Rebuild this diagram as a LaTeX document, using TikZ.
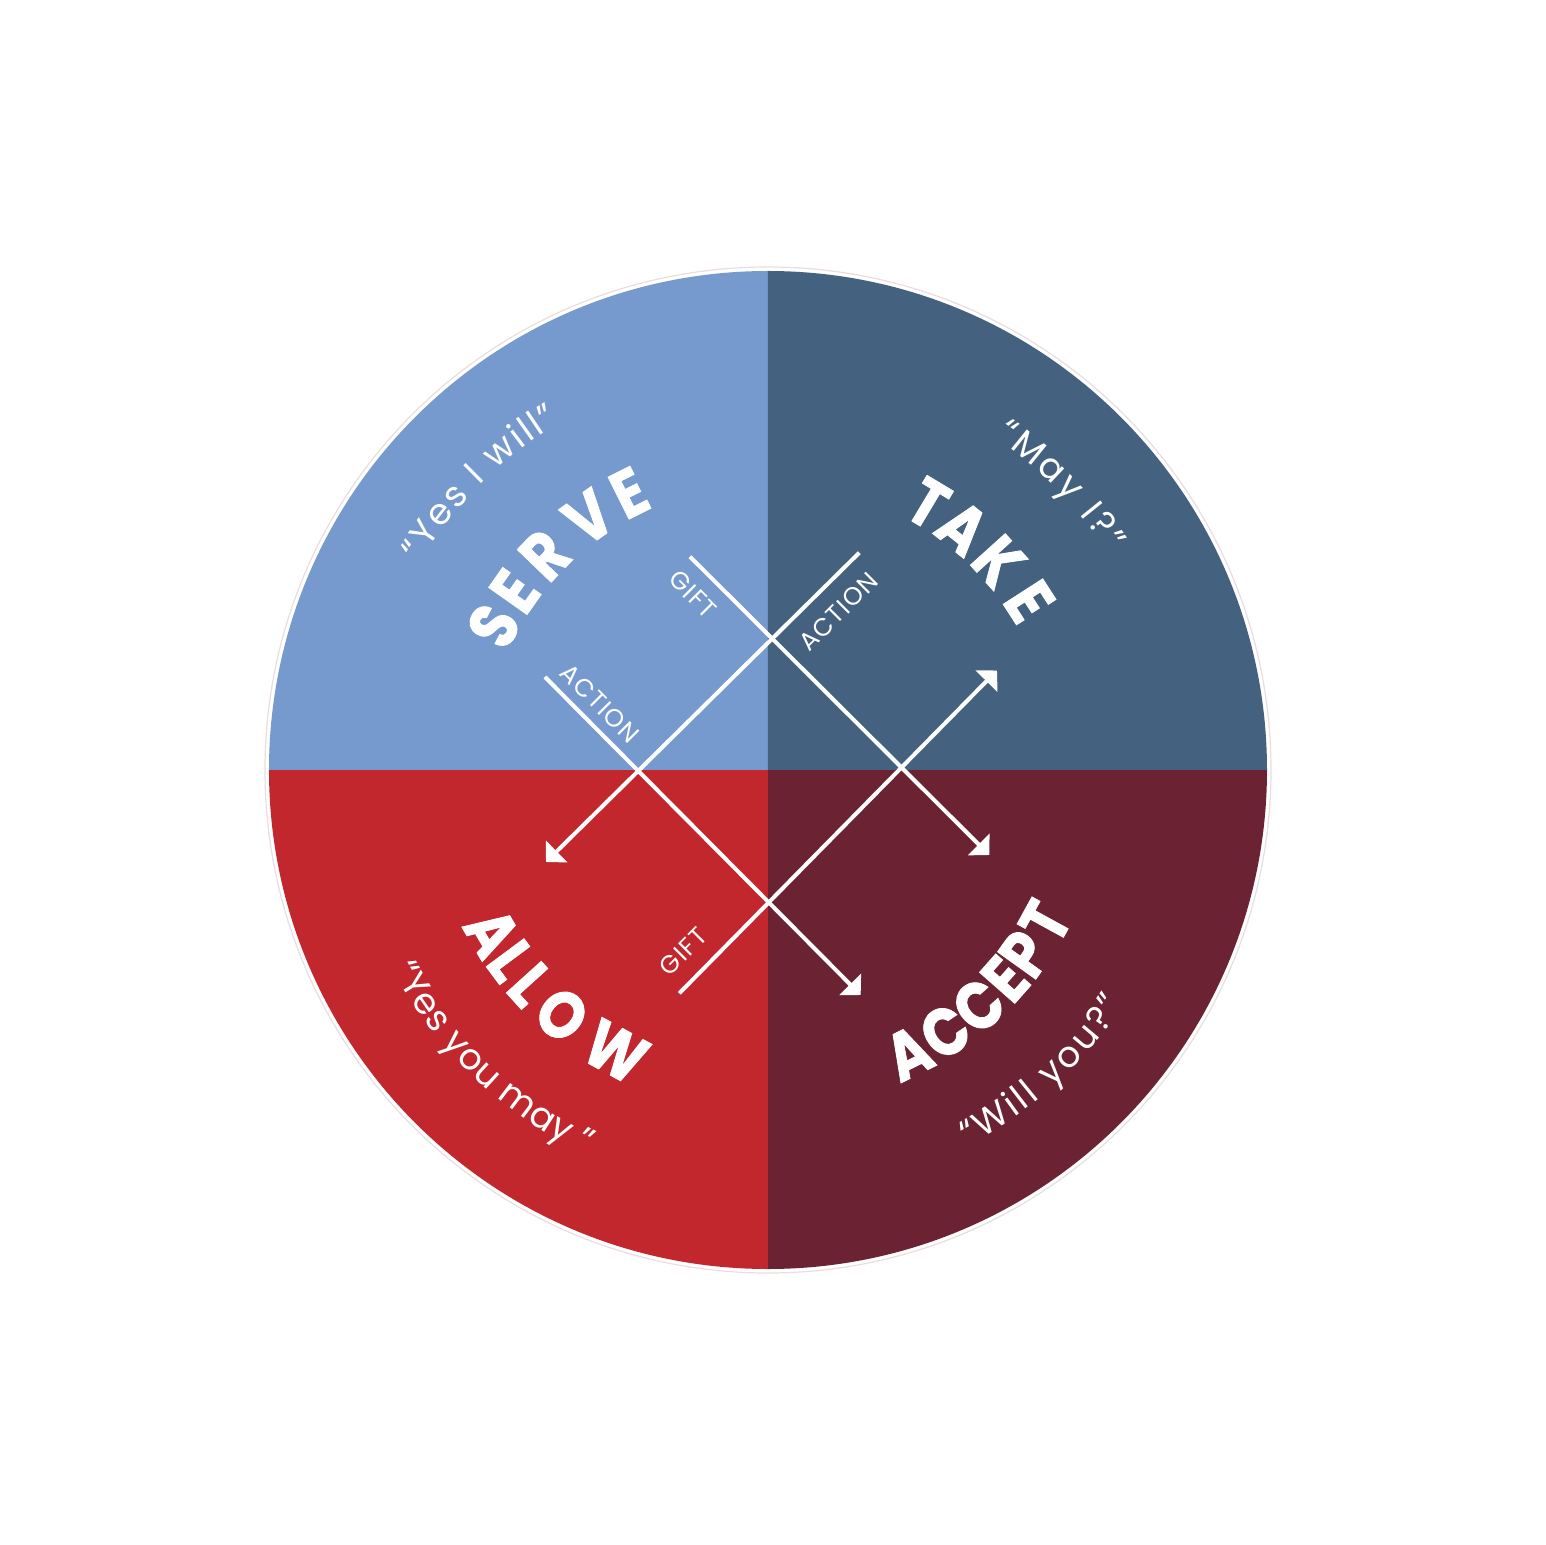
\documentclass[tikz,border=0pt]{standalone}
\usepackage{fontspec}
\setmainfont{Poppins}
\newfontfamily\qfont{Poppins}
\newfontfamily\bigfont{Poppins}[FakeStretch=0.85, BoldFeatures={FakeBold=1.2}]
\newfontfamily\lblfont{Poppins}[LetterSpace=5]
\usetikzlibrary{arrows.meta,decorations.text}
\definecolor{cServe}{HTML}{769ACE}
\definecolor{cTake}{HTML}{446180}
\definecolor{cAllow}{HTML}{C1272D}
\definecolor{cAccept}{HTML}{6B2232}
\definecolor{cRing}{HTML}{EADCE0}
\begin{document}
\begin{tikzpicture}[x=1pt,y=1pt,
  bigw/.style={text=white, inner sep=0pt, font=\bigfont\bfseries\fontsize{67}{67}\selectfont},
  lbl/.style={text=white, inner sep=0pt, font=\lblfont\fontsize{25}{25}\selectfont},
  ray/.style={draw=white, line width=4pt, -{Triangle[length=15pt,width=30pt]}},
  qtext/.style={decorate, decoration={text along path, text align={fit to path}, text color=white, text={|\qfont\fontsize{36}{36}\selectfont|#1}}}
]
\useasboundingbox (-768,-775) rectangle (777,770);
\fill[white] (-768,-775) rectangle (777,770);
% quadrants
\draw[cRing, line width=1.2pt] (0,0) circle[radius=503pt];
\fill[cServe] (0,0) -- (180:499pt) arc[start angle=180, end angle=90, radius=499pt] -- cycle;
\fill[cTake] (0,0) -- (90:499pt) arc[start angle=90, end angle=0, radius=499pt] -- cycle;
\fill[cAccept] (0,0) -- (0:499pt) arc[start angle=0, end angle=-90, radius=499pt] -- cycle;
\fill[cAllow] (0,0) -- (270:499pt) arc[start angle=270, end angle=180, radius=499pt] -- cycle;

% crossing lines
\coordinate (a1) at (-78,213.3);  \coordinate (a2) at (221.3,-85);
\coordinate (b1) at (91.3,217.3); \coordinate (b2) at (-222,-92);
\coordinate (c1) at (-223,93);    \coordinate (c2) at (92.7,-225);
\coordinate (d1) at (-88.7,-223.3); \coordinate (d2) at (229,99.5);
\draw[ray] (a1) -- (a2);
\draw[ray] (b1) -- (b2);
\draw[ray] (c1) -- (c2);
\draw[ray] (d1) -- (d2);

% small labels
\node[lbl, rotate=-45] (gift1) at (-75,176) {GIFT};
\node[lbl, rotate=45] (action1) at (70.3,158.3) {ACTION};
\node[lbl, rotate=-45] (action2) at (-168,66.7) {ACTION};
\node[lbl, rotate=45] (gift2) at (-84.7,-181.7) {GIFT};

% big words
\foreach \ch/\ang [count=\i] in {S/152.3, E/144.8, R/136.1, V/125.4, E/116.6}
  \node[bigw, rotate=\ang-90] (serve\i) at (\ang:310pt) {\ch};
\foreach \ch/\ang [count=\i] in {T/59.0, A/51.2, K/42.1, E/32.8}
  \node[bigw, rotate=\ang-90] (take\i) at (\ang:311pt) {\ch};
\foreach \ch/\ang [count=\i] in {A/210.5, L/216.6, L/222.1, O/229.9, W/241.6}
  \node[bigw, rotate=\ang+90] (allow\i) at (\ang:320pt) {\ch};
\foreach \ch/\ang [count=\i] in {A/-63.6, C/-55.9, C/-48.2, E/-41.4, P/-35.6, T/-28.7}
  \node[bigw, rotate=\ang+90] (accept\i) at (\ang:316pt) {\ch};

% quotes
\path[qtext={“Yes I will”}] (149.2:405pt) arc[start angle=149.2, end angle=121, radius=405pt];
\path[qtext={“May I?”}] (55.6:403pt) arc[start angle=55.6, end angle=32.6, radius=403pt];
\path[qtext={“Yes you may ”}] (208:425pt) arc[start angle=208, end angle=244.8, radius=425pt];
\path[qtext={“Will you?”}] (-62:426pt) arc[start angle=-62, end angle=-33.4, radius=426pt];
\end{tikzpicture}
\end{document}
